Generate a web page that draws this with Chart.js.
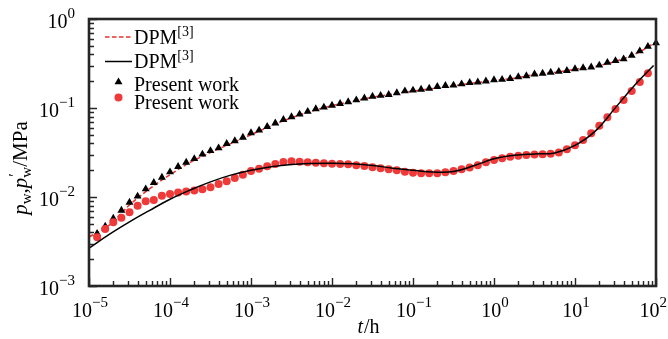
<!DOCTYPE html>
<html>
<head>
<meta charset="utf-8">
<script src="https://cdn.jsdelivr.net/npm/chart.js@4.4.1/dist/chart.umd.min.js"></script>
<style>
  html, body { margin: 0; padding: 0; background: #ffffff; }
  #c { display: block; }
</style>
</head>
<body>
<canvas id="c" width="668" height="339"></canvas>
<script>
// Sampling times of the computed points, as powers of ten (t in hours)
const tExp = [
  -4.9, -4.8, -4.7, -4.6, -4.5, -4.4, -4.3, -4.2, -4.1, -4.0,
  -3.9, -3.8, -3.7, -3.6, -3.5, -3.4, -3.3, -3.2, -3.1, -3.0,
  -2.9, -2.8, -2.7, -2.6, -2.5, -2.4, -2.3, -2.2, -2.1, -2.0,
  -1.9, -1.8, -1.7, -1.6, -1.5, -1.4, -1.3, -1.2, -1.1, -1.0,
  -0.9, -0.8, -0.7, -0.6, -0.5, -0.4, -0.3, -0.2, -0.1, 0.0,
  0.1, 0.2, 0.3, 0.4, 0.5, 0.6, 0.7, 0.8, 0.9, 1.0,
  1.1, 1.2, 1.3, 1.4, 1.5, 1.6, 1.7, 1.8, 1.9, 2.0
];

// Present work: pressure p_w (MPa), triangles
const presentPw = [
  0.00389, 0.00468, 0.00575, 0.00708, 0.00871, 0.0102, 0.0123, 0.0145, 0.0166, 0.0191,
  0.0219, 0.0245, 0.0269, 0.0302, 0.0331, 0.0355, 0.0398, 0.0427, 0.0468, 0.0525,
  0.0562, 0.0617, 0.0676, 0.0741, 0.0794, 0.0851, 0.0912, 0.0977, 0.102, 0.107,
  0.112, 0.117, 0.123, 0.129, 0.135, 0.138, 0.141, 0.148, 0.155, 0.158,
  0.162, 0.166, 0.174, 0.178, 0.180, 0.186, 0.193, 0.195, 0.200, 0.207,
  0.209, 0.214, 0.224, 0.229, 0.240, 0.245, 0.251, 0.257, 0.263, 0.275,
  0.282, 0.288, 0.302, 0.324, 0.339, 0.355, 0.389, 0.437, 0.490, 0.537
];

// Present work: derivative p'_w (MPa), circles (first 69 sampling times)
const presentDpw = [
  0.00352, 0.00437, 0.00520, 0.00585, 0.00673, 0.00798, 0.00895, 0.00925, 0.0103, 0.0108,
  0.0112, 0.0115, 0.0118, 0.0122, 0.0129, 0.0140, 0.0150, 0.0163, 0.0178, 0.0196,
  0.0208, 0.0221, 0.0235, 0.0247, 0.0252, 0.0249, 0.0245, 0.0243, 0.0239, 0.0237,
  0.0235, 0.0233, 0.0227, 0.0223, 0.0216, 0.0210, 0.0205, 0.0200, 0.0192, 0.0187,
  0.0185, 0.0185, 0.0185, 0.0190, 0.0196, 0.0205, 0.0214, 0.0228, 0.0245, 0.0261,
  0.0273, 0.0283, 0.0290, 0.0296, 0.0301, 0.0302, 0.0307, 0.0316, 0.0344, 0.0381,
  0.0437, 0.0520, 0.0632, 0.0787, 0.0975, 0.123, 0.155, 0.196, 0.245
];

// DPM reference curve for p_w (red dashed)
const dpmPwExp = [
  -5, -4.75, -4.5, -4.25, -4, -3.75, -3.5, -3.25, -3, -2.75,
  -2.5, -2.25, -2, -1.75, -1.5, -1.25, -1, -0.75, -0.5, -0.25,
  0, 0.25, 0.5, 0.75, 1, 1.25, 1.5, 1.75, 2
];
const dpmPw = [
  0.00355, 0.00484, 0.00813, 0.0124, 0.0178, 0.0245, 0.0316, 0.0398, 0.0501, 0.0631,
  0.0776, 0.0923, 0.106, 0.119, 0.132, 0.143, 0.155, 0.166, 0.178, 0.191,
  0.204, 0.216, 0.237, 0.251, 0.272, 0.295, 0.335, 0.407, 0.550
];

// DPM reference curve for p'_w (black solid)
const dpmDpwExp = [
  -5, -4.75, -4.5, -4.25, -4, -3.75, -3.5, -3.25, -3, -2.75,
  -2.5, -2.25, -2, -1.75, -1.5, -1.25, -1, -0.75, -0.5, -0.25,
  0, 0.25, 0.5, 0.75, 1, 1.25, 1.5, 1.75, 1.97
];
const dpmDpw = [
  0.00266, 0.00380, 0.00525, 0.00708, 0.00944, 0.0120, 0.0148, 0.0176, 0.0200, 0.0219,
  0.0232, 0.0238, 0.0240, 0.0236, 0.0226, 0.0211, 0.0200, 0.0191, 0.0193, 0.0224,
  0.0269, 0.0295, 0.0305, 0.0313, 0.0380, 0.0550, 0.101, 0.186, 0.300
];

// Axis decades
const xDecades = [-5, -4, -3, -2, -1, 0, 1, 2];
const yDecades = [-3, -2, -1, 0];

const legendLabels = ['DPM', 'DPM', 'Present work', 'Present work'];
const legendSup = '[3]';

const RED_LINE = '#e8302c';
const RED_DOT = '#f03a3a';
const BLACK = '#000000';
const AXIS = '#262626';
const FONT = '"Liberation Serif", "Times New Roman", serif';
const font = (size, italic) => (italic ? 'italic ' : '') + size + 'px ' + FONT;

const pts = (exps, vals) => vals.map((v, i) => ({ x: Math.pow(10, exps[i]), y: v }));

// Draws a run of text pieces; a piece may be raised/lowered and may skip advancing
function drawRun(ctx, pieces, x, y, measureOnly) {
  let cx = x;
  for (const p of pieces) {
    ctx.font = font(p.size, p.italic);
    const w = ctx.measureText(p.s).width;
    if (!measureOnly) ctx.fillText(p.s, cx + (p.dx || 0), y + (p.dy || 0));
    if (!p.hold) cx += w + (p.gap || 0);
  }
  return cx - x;
}

function powPieces(e) {
  const s = e < 0 ? '\u2212' + Math.abs(e) : String(e);
  return [{ s: '10', size: 20 }, { s: s, size: 15, dy: -10, gap: 0 }];
}

const framePlugin = {
  id: 'frameAndText',
  afterDraw(chart) {
    const ctx = chart.ctx;
    const a = chart.chartArea;
    const xs = chart.scales.x, ys = chart.scales.y;
    ctx.save();
    ctx.fillStyle = BLACK;
    ctx.textBaseline = 'alphabetic';
    ctx.textAlign = 'left';

    // inward tick marks on bottom and left
    ctx.strokeStyle = AXIS;
    ctx.lineWidth = 1.4;
    ctx.beginPath();
    for (const k of xDecades) {
      for (let m = 1; m <= 9; m++) {
        const v = m * Math.pow(10, k);
        if (v < xs.min * 0.999 || v > xs.max * 1.001) continue;
        const px = Math.round(xs.getPixelForValue(v)) + 0.5;
        const len = m === 1 ? 8 : 5;
        ctx.moveTo(px, a.bottom);
        ctx.lineTo(px, a.bottom - len);
      }
    }
    for (const k of yDecades) {
      for (let m = 1; m <= 9; m++) {
        const v = m * Math.pow(10, k);
        if (v < ys.min * 0.999 || v > ys.max * 1.001) continue;
        const py = Math.round(ys.getPixelForValue(v)) + 0.5;
        const len = m === 1 ? 8 : 5;
        ctx.moveTo(a.left, py);
        ctx.lineTo(a.left + len, py);
      }
    }
    ctx.stroke();

    // frame
    ctx.lineWidth = 2.6;
    ctx.strokeRect(a.left, a.top, a.right - a.left, a.bottom - a.top);

    // x tick labels (kept inside the canvas at the right edge)
    for (const k of xDecades) {
      const px = xs.getPixelForValue(Math.pow(10, k));
      const pcs = powPieces(k);
      const w = drawRun(ctx, pcs, 0, 0, true);
      const x0 = Math.min(px - w / 2 + 1, chart.width - w - 1);
      drawRun(ctx, pcs, x0, a.bottom + 31);
    }
    // y tick labels
    for (const k of yDecades) {
      const py = ys.getPixelForValue(Math.pow(10, k));
      const pcs = powPieces(k);
      const w = drawRun(ctx, pcs, 0, 0, true);
      drawRun(ctx, pcs, a.left - 14 - w, py + 9);
    }

    // x title: t/h
    const xt = [{ s: 't', size: 20, italic: true, gap: 1 }, { s: '/h', size: 20 }];
    const xtw = drawRun(ctx, xt, 0, 0, true);
    drawRun(ctx, xt, (a.left + a.right) / 2 - 4 - xtw / 2, 333);

    // y title: p_w, p'_w /MPa (rotated)
    const yt = [
      { s: 'p', size: 21, italic: true },
      { s: 'w', size: 15, dy: 4 },
      { s: ',', size: 21, gap: 0 },
      { s: 'p', size: 21, italic: true, gap: 0 },
      { s: '\u2032', size: 16, dy: -7, hold: true, dx: 1 },
      { s: 'w', size: 15, dy: 4 },
      { s: '/MPa', size: 21 }
    ];
    const ytw = drawRun(ctx, yt, 0, 0, true);
    ctx.save();
    ctx.translate(27, 168);
    ctx.rotate(-Math.PI / 2);
    drawRun(ctx, yt, -ytw / 2, 0);
    ctx.restore();

    // legend
    const ds = chart.data.datasets;
    const lx0 = 105, lx1 = 132, tx = 134;
    // row 1: red dashed line
    ctx.save();
    ctx.strokeStyle = ds[0].borderColor;
    ctx.lineWidth = ds[0].borderWidth;
    ctx.setLineDash(ds[0].borderDash);
    ctx.beginPath(); ctx.moveTo(lx0, 37); ctx.lineTo(lx1, 37); ctx.stroke();
    ctx.restore();
    // row 2: black line
    ctx.save();
    ctx.strokeStyle = ds[1].borderColor;
    ctx.lineWidth = ds[1].borderWidth;
    ctx.beginPath(); ctx.moveTo(lx0, 61.5); ctx.lineTo(lx1, 61.5); ctx.stroke();
    ctx.restore();
    // row 3: triangle, row 4: circle
    ctx.save();
    ctx.fillStyle = ds[2].backgroundColor;
    Chart.helpers.drawPoint(ctx, { pointStyle: 'triangle', radius: ds[2].pointRadius, rotation: 0, borderWidth: 0 }, 118.5, 82);
    ctx.fillStyle = ds[3].backgroundColor;
    Chart.helpers.drawPoint(ctx, { pointStyle: 'circle', radius: ds[3].pointRadius, rotation: 0, borderWidth: 0 }, 118.5, 97.5);
    ctx.restore();

    ctx.fillStyle = BLACK;
    drawRun(ctx, [{ s: legendLabels[0], size: 20 }, { s: legendSup, size: 14, dy: -8 }], tx, 43.5);
    drawRun(ctx, [{ s: legendLabels[1], size: 20 }, { s: legendSup, size: 14, dy: -8 }], tx, 67.5);
    drawRun(ctx, [{ s: legendLabels[2], size: 20 }], tx, 90.5);
    drawRun(ctx, [{ s: legendLabels[3], size: 20 }], tx, 109);

    ctx.restore();
  }
};

new Chart(document.getElementById('c'), {
  type: 'scatter',
  data: {
    datasets: [
      {
        label: 'DPM [3] p_w',
        data: pts(dpmPwExp, dpmPw),
        showLine: true,
        borderColor: RED_LINE,
        borderWidth: 1.5,
        borderDash: [4.5, 2.5],
        pointRadius: 0,
        tension: 0.4,
        order: 4
      },
      {
        label: "DPM [3] p'_w",
        data: pts(dpmDpwExp, dpmDpw),
        showLine: true,
        borderColor: BLACK,
        borderWidth: 1.5,
        pointRadius: 0,
        tension: 0.4,
        order: 1
      },
      {
        label: 'Present work p_w',
        data: pts(tExp, presentPw),
        showLine: false,
        pointStyle: 'triangle',
        pointRadius: 4.6,
        borderWidth: 0,
        backgroundColor: BLACK,
        borderColor: BLACK,
        clip: false,
        order: 3
      },
      {
        label: "Present work p'_w",
        data: pts(tExp.slice(0, presentDpw.length), presentDpw),
        showLine: false,
        pointStyle: 'circle',
        pointRadius: 4,
        borderWidth: 0,
        backgroundColor: RED_DOT,
        borderColor: RED_DOT,
        clip: false,
        order: 2
      }
    ]
  },
  options: {
    responsive: false,
    animation: false,
    devicePixelRatio: 1,
    layout: { padding: { top: 19, right: 12, left: 0, bottom: 0 } },
    plugins: { legend: { display: false }, tooltip: { enabled: false } },
    scales: {
      x: {
        type: 'logarithmic',
        min: 1e-5,
        max: 100,
        grid: { display: false },
        border: { display: false },
        ticks: { display: false },
        afterFit(s) { s.height = 53; }
      },
      y: {
        type: 'logarithmic',
        min: 1e-3,
        max: 1,
        grid: { display: false },
        border: { display: false },
        ticks: { display: false },
        afterFit(s) { s.width = 89; }
      }
    }
  },
  plugins: [framePlugin]
});
</script>
</body>
</html>
